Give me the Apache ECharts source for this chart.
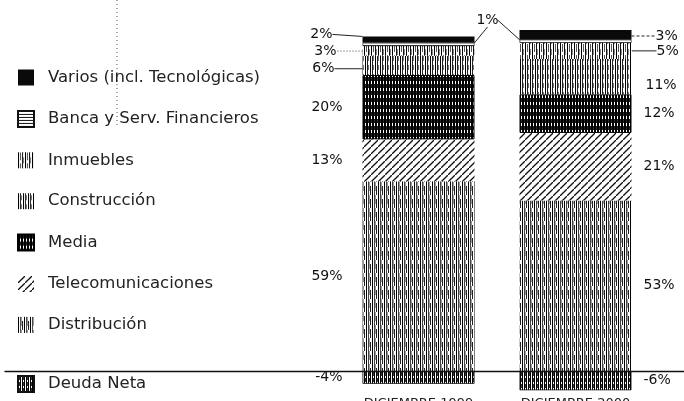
<!DOCTYPE html>
<html>
<head>
<meta charset="utf-8">
<script src="https://cdn.jsdelivr.net/npm/echarts@6/dist/echarts.min.js"></script>
<style>
html, body { margin: 0; padding: 0; background: #fff; }
#chart { width: 684px; height: 401px; }
</style>
</head>
<body>
<div id="chart"></div>
<script>
// datos (en % del total)
const years = ['DICIEMBRE 1999', 'DICIEMBRE 2000']
const sectors = ['Varios (incl. Tecnológicas)', 'Banca y Serv. Financieros', 'Inmuebles', 'Construcción', 'Media', 'Telecomunicaciones', 'Distribución']
const debtName = 'Deuda Neta'
const varios = [2, 3]
const banca = [1, 1]
const inmuebles = [3, 5]
const construccion = [6, 11]
const media = [20, 12]
const telecom = [13, 21]
const distribucion = [59, 53]
const deuda = [-4, -6]

const FONT = 'DejaVu Sans'

// tramas dibujadas en canvas, como en la impresión original
const makePattern = (w, h, draw) => {
	const c = document.createElement('canvas')
	c.width = w
	c.height = h
	const ctx = c.getContext('2d')
	ctx.fillStyle = '#fff'
	ctx.fillRect(0, 0, w, h)
	draw(ctx)
	return { image: c, repeat: 'repeat' }
}

const vLines = (w, h, cols) => makePattern(w, h, (ctx) => {
	cols.forEach(([x, color, y0, y1]) => {
		ctx.fillStyle = color
		ctx.fillRect(x, y0 || 0, 1, (y1 || h) - (y0 || 0))
	})
})

const patterns = {
	varios: makePattern(6, 6, (ctx) => {
		ctx.fillStyle = '#0a0a0a'
		ctx.fillRect(0, 0, 6, 6)
	}),
	banca: makePattern(4, 3, (ctx) => {
		ctx.fillStyle = '#111'
		ctx.fillRect(0, 0, 4, 1)
	}),
	inmuebles: vLines(7, 11, [[0, '#000'], [2, '#555', 0, 8], [4, '#111'], [5, '#888', 5, 11]]),
	construccion: vLines(5, 9, [[0, '#000'], [2, '#222'], [3, '#777', 2, 7]]),
	media: vLines(3, 7, [[0, '#000'], [1, '#000'], [2, '#222', 0, 4]]),
	telecom: makePattern(7, 7, (ctx) => {
		ctx.strokeStyle = '#111'
		ctx.lineWidth = 1.3
		ctx.beginPath()
		ctx.moveTo(0, 7)
		ctx.lineTo(7, 0)
		ctx.stroke()
	}),
	distribucion: vLines(6, 13, [[0, '#000'], [2, '#444'], [3, '#999', 0, 9], [4, '#222', 4, 13]]),
	deuda: vLines(4, 6, [[0, '#000'], [1, '#333', 0, 4], [2, '#000']])
}

// posiciones de las etiquetas pequeñas, relativas a la barra
const smallLabel = (left, right) => (p) => {
	const r = p.rect
	if (p.dataIndex === 0) {
		return { x: r.x - left[0], y: r.y + left[1], align: 'right', verticalAlign: 'middle' }
	}
	return { x: r.x + r.width + right[0], y: r.y + right[1], align: 'left', verticalAlign: 'middle' }
}

const bigData = (values) => values.map((v, i) => ({
	value: v,
	label: { position: i === 0 ? 'left' : 'right', distance: i === 0 ? 20 : 12 }
}))

const labelText = { color: '#111', fontFamily: FONT, fontSize: 14, formatter: (p) => p.value + '%' }

const barSeries = (name, values, color, extra) => Object.assign({
	name,
	type: 'bar',
	stack: 'total',
	barWidth: 112,
	itemStyle: { color, borderColor: '#111', borderWidth: 0 },
	label: Object.assign({ show: true }, labelText),
	data: bigData(values)
}, extra || {})

const lineStyle = { color: '#222', width: 1, type: 'solid' }
const dotted = { color: '#444', width: 1, type: [1, 2] }
const dashed = { color: '#222', width: 1, type: [3, 2] }

const series = [
	barSeries(sectors[6], distribucion, patterns.distribucion),
	barSeries(sectors[5], telecom, patterns.telecom),
	barSeries(sectors[4], media, patterns.media, {
		itemStyle: { color: patterns.media, borderColor: '#000', borderWidth: 1 }
	}),
	barSeries(sectors[3], construccion, patterns.construccion, {
		data: [
			{ value: construccion[0] },
			{ value: construccion[1], labelLine: { show: false } }
		],
		labelLine: { show: true, lineStyle },
		labelLayout: smallLabel([28, 13], [14, 26])
	}),
	barSeries(sectors[2], inmuebles, patterns.inmuebles, {
		data: [
			{ value: inmuebles[0], labelLine: { lineStyle: dotted } },
			{ value: inmuebles[1], labelLine: { lineStyle } }
		],
		labelLine: { show: true },
		labelLayout: smallLabel([26, 5], [25, 8])
	}),
	barSeries(sectors[1], banca, patterns.banca, {
		itemStyle: { color: patterns.banca, borderColor: '#111', borderWidth: 0.6 },
		data: [
			{ value: banca[0] },
			{ value: banca[1], label: { color: 'rgba(0,0,0,0)' } }
		],
		labelLine: { show: true, lineStyle },
		labelLayout: (p) => {
			const r = p.rect
			const x = p.dataIndex === 0 ? r.x + r.width + 13 : r.x - 33
			return { x, y: 20, align: 'center', verticalAlign: 'middle' }
		}
	}),
	barSeries(sectors[0], varios, patterns.varios, {
		data: [
			{ value: varios[0] },
			{ value: varios[1], labelLine: { lineStyle: dashed } }
		],
		labelLine: { show: true, lineStyle },
		labelLayout: smallLabel([30, -2], [24, 6])
	}),
	barSeries(debtName, deuda, patterns.deuda, {
		itemStyle: { color: patterns.deuda, borderColor: '#111', borderWidth: 0.8 }
	})
]

const legendText = { fontFamily: FONT, fontSize: 16.5, color: '#222', padding: [0, 0, 0, 9] }

const chart = echarts.init(document.getElementById('chart'))

chart.setOption({
	backgroundColor: '#fff',
	animation: false,
	textStyle: { fontFamily: FONT },
	legend: [
		{
			data: sectors,
			orient: 'vertical',
			left: 12,
			top: 64,
			icon: 'rect',
			itemWidth: 16,
			itemHeight: 16,
			itemGap: 23.9,
			selectedMode: false,
			textStyle: legendText
		},
		{
			data: [debtName],
			orient: 'vertical',
			left: 12,
			top: 370,
			icon: 'rect',
			itemWidth: 16,
			itemHeight: 16,
			selectedMode: false,
			textStyle: legendText
		}
	],
	grid: [
		{ left: 340, width: 314, top: 30, height: 360.3, outerBoundsMode: 'none', containLabel: false },
		// rejilla a todo lo ancho, solo para la línea de cero
		{ left: 5, right: 0, top: 30, height: 360.3, outerBoundsMode: 'none', containLabel: false }
	],
	xAxis: [
		{
			type: 'category',
			gridIndex: 0,
			data: years,
			axisLine: { show: false },
			axisTick: { show: false },
			axisLabel: { margin: 7, fontFamily: FONT, fontSize: 13, color: '#222' }
		},
		{
			type: 'category',
			gridIndex: 1,
			data: [],
			z: 10,
			axisLine: { show: true, onZero: true, lineStyle: { color: '#111', width: 1.3 } },
			axisTick: { show: false },
			axisLabel: { show: false }
		}
	],
	yAxis: [
		{ type: 'value', gridIndex: 0, min: -6, max: 106, show: false },
		{ type: 'value', gridIndex: 1, min: -6, max: 106, show: false }
	],
	graphic: [
		{
			type: 'line',
			shape: { x1: 117, y1: 0, x2: 117, y2: 125 },
			style: { stroke: '#555', lineWidth: 1, lineDash: [1, 3] }
		}
	],
	series
})
</script>
</body>
</html>
